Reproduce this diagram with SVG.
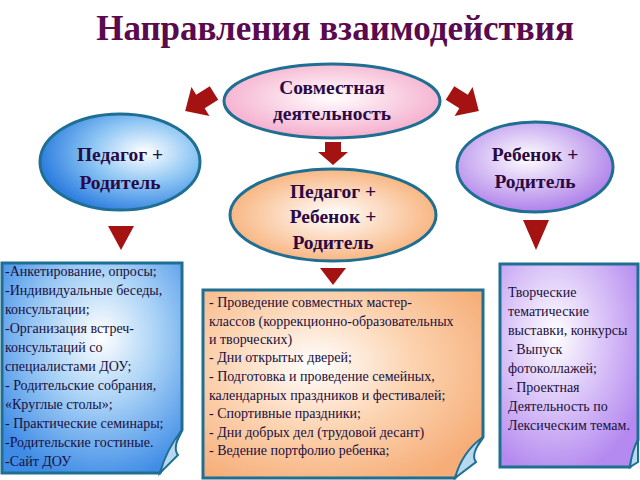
<svg xmlns="http://www.w3.org/2000/svg" width="640" height="480" viewBox="0 0 640 480">
<defs>
<radialGradient id="gPink" cx="50%" cy="45%" r="60%"><stop offset="0" stop-color="#ffffff"/><stop offset="1" stop-color="#f4a6c8"/></radialGradient>
<radialGradient id="gBlue" cx="65%" cy="40%" r="65%"><stop offset="0" stop-color="#ffffff"/><stop offset="0.5" stop-color="#8ec6f4"/><stop offset="1" stop-color="#2f7fe0"/></radialGradient>
<radialGradient id="gOrange" cx="50%" cy="50%" r="60%"><stop offset="0" stop-color="#ffffff"/><stop offset="1" stop-color="#f7a86a"/></radialGradient>
<radialGradient id="gPurple" cx="45%" cy="40%" r="65%"><stop offset="0" stop-color="#ffffff"/><stop offset="1" stop-color="#a877e8"/></radialGradient>
<radialGradient id="bBlue" cx="55%" cy="35%" r="70%"><stop offset="0" stop-color="#ffffff"/><stop offset="0.45" stop-color="#a9d2f6"/><stop offset="1" stop-color="#3f8ce6"/></radialGradient>
<radialGradient id="bOrange" cx="40%" cy="40%" r="70%"><stop offset="0" stop-color="#ffffff"/><stop offset="0.5" stop-color="#fcd3b0"/><stop offset="1" stop-color="#f6ad78"/></radialGradient>
<radialGradient id="bPurple" cx="40%" cy="35%" r="70%"><stop offset="0" stop-color="#ffffff"/><stop offset="1" stop-color="#b58af0"/></radialGradient>
<polygon id="arr" points="0,-8 16,-8 16,-17 34,0 16,17 16,8 0,8"/>
</defs>
<style>
text{font-family:'Liberation Serif','Times New Roman',serif}
.e{stroke:#1f6f93;stroke-width:3}
.b{stroke:#1f6f93;stroke-width:3}
.t{font-size:14px;fill:#1a1040;font-family:'Liberation Serif','Times New Roman',serif}
.h{font-size:19.5px;font-weight:bold;fill:#2a0a45;text-anchor:middle;font-family:'Liberation Serif','Times New Roman',serif}
.ar{fill:#a51212}
.curl{fill:#b8d8f0;stroke:#1f6f93;stroke-width:2}
</style>
<rect width="640" height="480" fill="#ffffff"/>
<text x="335" y="40" text-anchor="middle" font-size="35" font-weight="bold" fill="#5a0a4e">Направления взаимодействия</text>
<g id="connectors">
<use href="#arr" class="ar" transform="translate(214,93) rotate(148)"/>
<use href="#arr" class="ar" transform="translate(450,93) rotate(32)"/>
<polygon class="ar" points="325,142 341,142 341,152 348,152 333,165 318,152 325,152"/>
<polygon class="ar" points="108,226 134,226 121,250"/>
<polygon class="ar" points="320,268 346,268 333,285"/>
<polygon class="ar" points="523,220 549,220 536,250"/>
</g>
<g id="node-joint">
<ellipse class="e" cx="332" cy="101" rx="108" ry="37" fill="url(#gPink)"/>
<text class="h" x="332" y="94">Совместная</text>
<text class="h" x="332" y="120">деятельность</text>
</g>
<g id="node-teacher-parent">
<ellipse class="e" cx="120" cy="162" rx="80" ry="48" fill="url(#gBlue)"/>
<text class="h" x="120" y="161">Педагог +</text>
<text class="h" x="120" y="189">Родитель</text>
</g>
<g id="node-all">
<ellipse class="e" cx="333" cy="215" rx="103" ry="46" fill="url(#gOrange)"/>
<text class="h" x="333" y="198">Педагог +</text>
<text class="h" x="333" y="223">Ребенок +</text>
<text class="h" x="333" y="249">Родитель</text>
</g>
<g id="node-child-parent">
<ellipse class="e" cx="535" cy="167" rx="78" ry="45" fill="url(#gPurple)"/>
<text class="h" x="535" y="161">Ребенок +</text>
<text class="h" x="535" y="188">Родитель</text>
</g>
<g id="box-left">
<path class="b" d="M2,263 H182 V430 L160,473 H2 Z" fill="url(#bBlue)"/>
<path class="curl" d="M160,473 Q166,450 182,430 Q172,448 178,455 Z"/>
<text class="t" x="5" y="276">-Анкетирование, опросы;</text>
<text class="t" x="5" y="295">-Индивидуальные беседы,</text>
<text class="t" x="5" y="314">консультации;</text>
<text class="t" x="5" y="333">-Организация встреч-</text>
<text class="t" x="5" y="352">консультаций со</text>
<text class="t" x="5" y="371">специалистами ДОУ;</text>
<text class="t" x="5" y="390">- Родительские собрания,</text>
<text class="t" x="5" y="409">«Круглые столы»;</text>
<text class="t" x="5" y="428">- Практические семинары;</text>
<text class="t" x="5" y="447">-Родительские гостиные.</text>
<text class="t" x="5" y="466">-Сайт ДОУ</text>
</g>
<g id="box-center">
<path class="b" d="M203,290 H483 V437 L455,478 H203 Z" fill="url(#bOrange)"/>
<path class="curl" d="M455,478 Q462,452 483,437 Q470,455 476,462 Z" fill="#f8c8a0"/>
<text class="t" x="209" y="307">- Проведение совместных мастер-</text>
<text class="t" x="209" y="326">классов (коррекционно-образовательных</text>
<text class="t" x="209" y="344"> и творческих)</text>
<text class="t" x="209" y="362">- Дни открытых дверей;</text>
<text class="t" x="209" y="381">- Подготовка и проведение семейных,</text>
<text class="t" x="209" y="400">календарных  праздников и фестивалей;</text>
<text class="t" x="209" y="418">- Спортивные праздники;</text>
<text class="t" x="209" y="437">- Дни добрых дел (трудовой десант)</text>
<text class="t" x="209" y="455">- Ведение портфолио ребенка;</text>
</g>
<g id="box-right">
<path class="b" d="M500,264 H638 V440 L630,467 H500 Z" fill="url(#bPurple)"/>
<path class="curl" d="M630,467 Q632,450 638,440 L638,462 Z" fill="#d6c0f6"/>
<text class="t" x="508" y="297"> Творческие</text>
<text class="t" x="508" y="316">тематические</text>
<text class="t" x="508" y="335">выставки, конкурсы</text>
<text class="t" x="508" y="354">- Выпуск</text>
<text class="t" x="508" y="373">фотоколлажей;</text>
<text class="t" x="508" y="392">- Проектная</text>
<text class="t" x="508" y="411">Деятельность по</text>
<text class="t" x="508" y="430">Лексическим темам.</text>
</g>
</svg>
